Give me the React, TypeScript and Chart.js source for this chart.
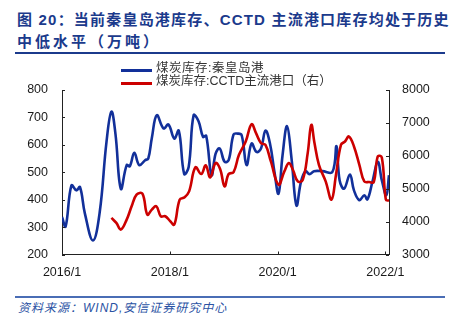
import React, { useEffect, useRef } from "react";
import { Chart, registerables } from "chart.js";

Chart.register(...registerables);

// ---- data (x = months since 2016/1) ----
const xTickMonths = [0, 24, 48, 72];
const xTickLabels = ["2016/1", "2018/1", "2020/1", "2022/1"];

const leftTicks = [200, 300, 400, 500, 600, 700, 800];
const rightTicks = [3000, 4000, 5000, 6000, 7000, 8000];

const qhdLabel = "煤炭库存:秦皇岛港";
const qhdMonths = [
  0, 0.8, 2.1, 3.2, 4.0, 5.1, 6.9, 8.4, 9.9, 11.0, 11.9, 13.1, 14.4, 15.1, 16.1,
  17.2, 18.5, 19.2, 20.0, 21.1, 22.6, 23.7, 25.0, 26.0, 27.2, 28.2, 29.3, 30.4,
  31.4, 32.1, 33.3, 34.2, 35.1, 36.2, 37.1, 38.2, 39.1, 40.0, 41.1, 42.2, 43.3,
  44.3, 45.3, 46.3, 47.3, 48.2, 49.1, 50.1, 51.1, 52.2, 53.2, 54.2, 55.1, 56.1,
  58.0, 60.2, 61.1, 61.8, 62.8, 64.1, 65.0, 66.2, 67.3, 68.0, 69.1, 70.3, 71.2,
  72.2, 72.8,
];
const qhdValues = [
  337, 302, 452, 434, 446, 349, 251, 355, 610, 721, 640, 440, 526, 522, 571,
  526, 544, 550, 625, 708, 660, 674, 623, 652, 494, 519, 708, 686,
  629, 633, 489, 568, 587, 538, 544, 638, 641, 635, 526, 605, 574,
  587, 652, 605, 501, 422, 562, 668, 550, 379, 465, 504, 493, 504,
  504, 501, 595, 471, 440, 492, 434, 398, 416, 401, 465, 538, 471,
  416, 489,
];

const cctdLabel = "煤炭库存:CCTD主流港口（右）";
const cctdMonths = [
  11.0, 12.1, 13.1, 14.4, 15.5, 16.6, 17.9, 19.0, 20.0, 21.0, 22.0, 23.0, 24.1,
  25.0, 26.2, 27.3, 28.3, 29.7, 31.0, 32.0, 33.0, 34.2, 35.2, 36.2, 37.1, 38.2,
  39.4, 40.9, 42.2, 43.2, 44.3, 45.3, 46.5, 48.2, 49.5, 50.5, 51.4, 52.5, 53.6,
  54.7, 55.5, 56.2, 57.2, 58.7, 60.0, 61.0, 62.1, 63.0, 63.9, 65.0, 66.2, 67.3,
  68.4, 69.4, 70.3, 71.2, 72.1, 72.8,
];
const cctdValues = [
  4112, 3960, 3758, 4061, 4465, 4818, 4848, 4212, 4364, 4465, 4162, 4162, 4010,
  3909, 4667, 4740, 4919, 5650, 5445, 5710, 5343, 5778, 5600, 5071, 5445, 5505,
  6030, 6434, 6960, 6687, 6384, 6333, 5828, 5121, 5525, 5778, 5576, 5222, 5273,
  6081, 6939, 6400, 5727, 5222, 4667, 5424, 6333, 6434, 6586, 6283, 5727, 5222,
  5202, 5202, 5980, 5950, 4667, 4636,
];

const BLUE = "#12309a";
const RED = "#cc0000";
const TITLE_BLUE = "#1b3a8c";

const inwardTicks = {
  id: "inwardTicks",
  afterDraw(chart: any) {
    const ctx = chart.ctx;
    const { x, y, y1 } = chart.scales;
    ctx.save();
    ctx.strokeStyle = "#222";
    ctx.lineWidth = 1;
    ctx.beginPath();
    y.ticks.forEach((t: any) => {
      const py = Math.round(y.getPixelForValue(t.value)) + 0.5;
      ctx.moveTo(y.right, py);
      ctx.lineTo(y.right + 3, py);
    });
    y1.ticks.forEach((t: any) => {
      const py = Math.round(y1.getPixelForValue(t.value)) + 0.5;
      ctx.moveTo(y1.left, py);
      ctx.lineTo(y1.left - 3, py);
    });
    x.ticks.forEach((t: any) => {
      const px = Math.round(x.getPixelForValue(t.value)) + 0.5;
      ctx.moveTo(px, x.top);
      ctx.lineTo(px, x.top - 3);
    });
    ctx.stroke();
    ctx.restore();
  },
};

function ChartBox() {
  const ref = useRef<HTMLCanvasElement | null>(null);
  useEffect(() => {
    if (!ref.current) return;
    const tickFont = { family: "'Liberation Sans', Arial, sans-serif", size: 12.5 };
    const chart = new Chart(ref.current, {
      type: "line",
      data: {
        datasets: [
          {
            label: qhdLabel,
            data: qhdMonths.map((m, i) => ({ x: m, y: qhdValues[i] })),
            borderColor: BLUE,
            backgroundColor: BLUE,
            borderWidth: 2.6,
            pointRadius: 0,
            tension: 0.4,
            yAxisID: "y",
            order: 1,
          },
          {
            label: cctdLabel,
            data: cctdMonths.map((m, i) => ({ x: m, y: cctdValues[i] })),
            borderColor: RED,
            backgroundColor: RED,
            borderWidth: 2.6,
            pointRadius: 0,
            tension: 0.4,
            yAxisID: "y1",
            order: 0,
          },
        ],
      },
      options: {
        animation: false,
        responsive: false,
        maintainAspectRatio: false,
        layout: { padding: { top: 35, left: 0, right: 0, bottom: 0 } },
        plugins: { legend: { display: false }, tooltip: { enabled: false } },
        scales: {
          x: {
            type: "linear",
            position: "bottom",
            min: 0,
            max: 72.8,
            afterBuildTicks: (s: any) => {
              s.ticks = xTickMonths.map((v) => ({ value: v }));
            },
            afterFit: (s: any) => {
              s.height = 35.5;
            },
            ticks: {
              autoSkip: false,
              maxRotation: 0,
              padding: 11,
              color: "#1a1a1a",
              font: tickFont,
              callback: (v: any) => {
                const i = xTickMonths.indexOf(Number(v));
                return i >= 0 ? xTickLabels[i] : "";
              },
            },
            grid: { display: false, drawTicks: false },
            border: { display: true, color: "#222", width: 1 },
          },
          y: {
            type: "linear",
            position: "left",
            min: 200,
            max: 800,
            afterBuildTicks: (s: any) => {
              s.ticks = leftTicks.map((v) => ({ value: v }));
            },
            afterFit: (s: any) => {
              s.width = 62;
            },
            ticks: {
              padding: 14,
              color: "#1a1a1a",
              font: tickFont,
              callback: (v: any) => String(v),
            },
            grid: { display: false, drawTicks: false },
            border: { display: true, color: "#222", width: 1 },
          },
          y1: {
            type: "linear",
            position: "right",
            min: 3000,
            max: 8000,
            afterBuildTicks: (s: any) => {
              s.ticks = rightTicks.map((v) => ({ value: v }));
            },
            afterFit: (s: any) => {
              s.width = 66;
            },
            ticks: {
              padding: 13,
              color: "#1a1a1a",
              font: tickFont,
              callback: (v: any) => String(v),
            },
            grid: { display: false, drawTicks: false },
            border: { display: true, color: "#222", width: 1 },
          },
        },
      } as any,
      plugins: [inwardTicks],
    });
    return () => chart.destroy();
  }, []);
  return (
    <canvas
      ref={ref}
      width={455}
      height={235}
      style={{ position: "absolute", left: 0, top: 55, width: 455, height: 235 }}
    />
  );
}

const cjkFont = "'Liberation Sans', 'Noto Sans CJK SC', sans-serif";

export default function App() {
  return (
    <div
      style={{
        position: "fixed",
        left: 0,
        top: 0,
        width: 455,
        height: 322,
        background: "#fff",
        overflow: "hidden",
        fontFamily: cjkFont,
      }}
    >
      <div
        style={{
          position: "absolute",
          left: 17,
          top: 9,
          color: TITLE_BLUE,
          fontWeight: "bold",
          fontSize: 15,
          lineHeight: "22px",
          whiteSpace: "nowrap",
        }}
      >
        <div style={{ letterSpacing: 1.2 }}>图 20：当前秦皇岛港库存、CCTD 主流港口库存均处于历史</div>
        <div style={{ letterSpacing: 3 }}>中低水平（万吨）</div>
      </div>
      <div
        style={{
          position: "absolute",
          left: 15,
          top: 52,
          width: 430,
          height: 1.5,
          background: TITLE_BLUE,
        }}
      />
      <ChartBox />
      {/* legend */}
      <div style={{ position: "absolute", left: 121, top: 69, width: 31, height: 2.6, background: BLUE }} />
      <div style={{ position: "absolute", left: 121, top: 82, width: 31, height: 2.6, background: RED }} />
      <div
        style={{
          position: "absolute",
          left: 156,
          top: 62,
          fontSize: 12.5,
          lineHeight: "13px",
          color: "#333",
          whiteSpace: "nowrap",
        }}
      >
        <div style={{ letterSpacing: 0.5 }}>{qhdLabel}</div>
        <div>{cctdLabel}</div>
      </div>
      <div
        style={{
          position: "absolute",
          left: 15,
          top: 296,
          width: 430,
          height: 2,
          background: "#4a6db5",
        }}
      />
      <div
        style={{
          position: "absolute",
          left: 18,
          top: 301,
          fontSize: 12,
          lineHeight: "15px",
          fontStyle: "italic",
          color: "#2a52a3",
          letterSpacing: 1,
          whiteSpace: "nowrap",
        }}
      >
        资料来源：WIND,安信证券研究中心
      </div>
    </div>
  );
}
